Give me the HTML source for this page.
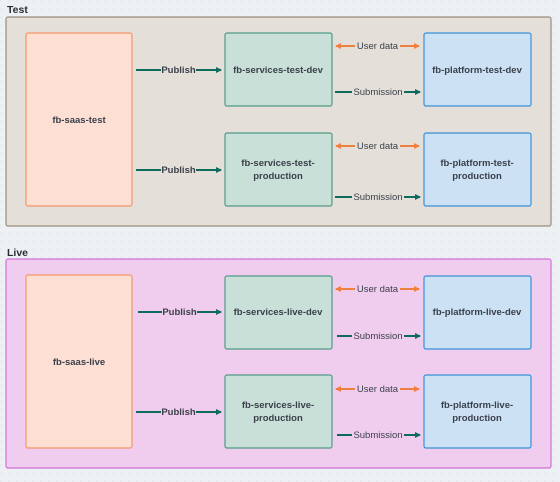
<!DOCTYPE html>
<html><head><meta charset="utf-8"><style>
html,body{margin:0;padding:0;background:#eef1f4;}
svg{display:block;font-family:"Liberation Sans",sans-serif;}
.n{font-size:9.5px;font-weight:bold;fill:#3a3f4a;text-anchor:middle;}
.l{font-size:9.5px;fill:#3a3f4a;text-anchor:middle;}
.lb{font-size:9.5px;font-weight:bold;fill:#3a3f4a;text-anchor:middle;}
.t{font-size:10.5px;font-weight:bold;fill:#2a2e36;}
</style></head><body>
<svg width="560" height="482" viewBox="0 0 560 482" xmlns="http://www.w3.org/2000/svg">
<defs>
<pattern id="dots" width="8" height="8" patternUnits="userSpaceOnUse"><circle cx="1" cy="1" r="0.6" fill="#d6dbe0"/></pattern>
<marker id="ag" markerWidth="6" markerHeight="6" refX="5" refY="3" orient="auto" markerUnits="userSpaceOnUse"><path d="M0,0 L6,3 L0,6 z" fill="#0d6b5c"/></marker>
<marker id="ao" markerWidth="6" markerHeight="6" refX="5" refY="3" orient="auto-start-reverse" markerUnits="userSpaceOnUse"><path d="M0,0 L6,3 L0,6 z" fill="#f08040"/></marker>
</defs>
<rect width="560" height="482" fill="#eef1f4"/>
<rect width="560" height="482" fill="url(#dots)"/>

<!-- TEST -->
<text class="t" x="7" y="13">Test</text>
<rect x="6" y="17" width="545" height="209" rx="2" fill="#e4e0d9" stroke="#9a8c7a" stroke-width="1.2"/>
<rect x="26" y="33" width="106" height="173" rx="2" fill="#fde0d3" stroke="#f4956a" stroke-width="1.2"/>
<text class="n" x="79" y="123">fb-saas-test</text>
<rect x="225" y="33" width="107" height="73" rx="2" fill="#c8e0d8" stroke="#4f9a88" stroke-width="1.2"/>
<text class="n" x="278" y="73">fb-services-test-dev</text>
<rect x="225" y="133" width="107" height="73" rx="2" fill="#c8e0d8" stroke="#4f9a88" stroke-width="1.2"/>
<text class="n" x="278" y="166">fb-services-test-</text>
<text class="n" x="278" y="179">production</text>
<rect x="424" y="33" width="107" height="73" rx="2" fill="#cce2f4" stroke="#3a90d8" stroke-width="1.2"/>
<text class="n" x="477" y="73">fb-platform-test-dev</text>
<rect x="424" y="133" width="107" height="73" rx="2" fill="#cce2f4" stroke="#3a90d8" stroke-width="1.2"/>
<text class="n" x="477" y="166">fb-platform-test-</text>
<text class="n" x="477" y="179">production</text>

<g stroke="#0d6b5c" stroke-width="2" fill="none">
<line x1="136" y1="70" x2="161" y2="70"/><line x1="196" y1="70" x2="221" y2="70" marker-end="url(#ag)"/>
<line x1="136" y1="170" x2="161" y2="170"/><line x1="196" y1="170" x2="221" y2="170" marker-end="url(#ag)"/>
<line x1="335" y1="92" x2="352" y2="92"/><line x1="404" y1="92" x2="420" y2="92" marker-end="url(#ag)"/>
<line x1="335" y1="197" x2="352" y2="197"/><line x1="404" y1="197" x2="420" y2="197" marker-end="url(#ag)"/>
</g>
<g stroke="#f08040" stroke-width="2" fill="none">
<line x1="336" y1="46" x2="355" y2="46" marker-start="url(#ao)"/><line x1="400" y1="46" x2="419" y2="46" marker-end="url(#ao)"/>
<line x1="336" y1="146" x2="355" y2="146" marker-start="url(#ao)"/><line x1="400" y1="146" x2="419" y2="146" marker-end="url(#ao)"/>
</g>
<text class="lb" x="178.5" y="73">Publish</text>
<text class="lb" x="178.5" y="173">Publish</text>
<text class="l" x="377.5" y="49">User data</text>
<text class="l" x="377.5" y="149">User data</text>
<text class="l" x="378" y="95">Submission</text>
<text class="l" x="378" y="200">Submission</text>

<!-- LIVE -->
<text class="t" x="7" y="256">Live</text>
<rect x="6" y="259" width="545" height="209" rx="2" fill="#f0cdee" stroke="#d070d8" stroke-width="1.2"/>
<rect x="26" y="275" width="106" height="173" rx="2" fill="#fde0d3" stroke="#f4956a" stroke-width="1.2"/>
<text class="n" x="79" y="365">fb-saas-live</text>
<rect x="225" y="276" width="107" height="73" rx="2" fill="#c8e0d8" stroke="#4f9a88" stroke-width="1.2"/>
<text class="n" x="278" y="315">fb-services-live-dev</text>
<rect x="225" y="375" width="107" height="73" rx="2" fill="#c8e0d8" stroke="#4f9a88" stroke-width="1.2"/>
<text class="n" x="278" y="408">fb-services-live-</text>
<text class="n" x="278" y="421">production</text>
<rect x="424" y="276" width="107" height="73" rx="2" fill="#cce2f4" stroke="#3a90d8" stroke-width="1.2"/>
<text class="n" x="477" y="315">fb-platform-live-dev</text>
<rect x="424" y="375" width="107" height="73" rx="2" fill="#cce2f4" stroke="#3a90d8" stroke-width="1.2"/>
<text class="n" x="477" y="408">fb-platform-live-</text>
<text class="n" x="477" y="421">production</text>

<g stroke="#0d6b5c" stroke-width="2" fill="none">
<line x1="138" y1="312" x2="162" y2="312"/><line x1="197" y1="312" x2="221" y2="312" marker-end="url(#ag)"/>
<line x1="136" y1="412" x2="161" y2="412"/><line x1="196" y1="412" x2="221" y2="412" marker-end="url(#ag)"/>
<line x1="337" y1="336" x2="352" y2="336"/><line x1="404" y1="336" x2="420" y2="336" marker-end="url(#ag)"/>
<line x1="337" y1="435" x2="352" y2="435"/><line x1="404" y1="435" x2="420" y2="435" marker-end="url(#ag)"/>
</g>
<g stroke="#f08040" stroke-width="2" fill="none">
<line x1="336" y1="289" x2="355" y2="289" marker-start="url(#ao)"/><line x1="400" y1="289" x2="419" y2="289" marker-end="url(#ao)"/>
<line x1="336" y1="389" x2="355" y2="389" marker-start="url(#ao)"/><line x1="400" y1="389" x2="419" y2="389" marker-end="url(#ao)"/>
</g>
<text class="lb" x="179.5" y="315">Publish</text>
<text class="lb" x="178.5" y="415">Publish</text>
<text class="l" x="377.5" y="292">User data</text>
<text class="l" x="377.5" y="392">User data</text>
<text class="l" x="378" y="339">Submission</text>
<text class="l" x="378" y="438">Submission</text>
</svg>
</body></html>
